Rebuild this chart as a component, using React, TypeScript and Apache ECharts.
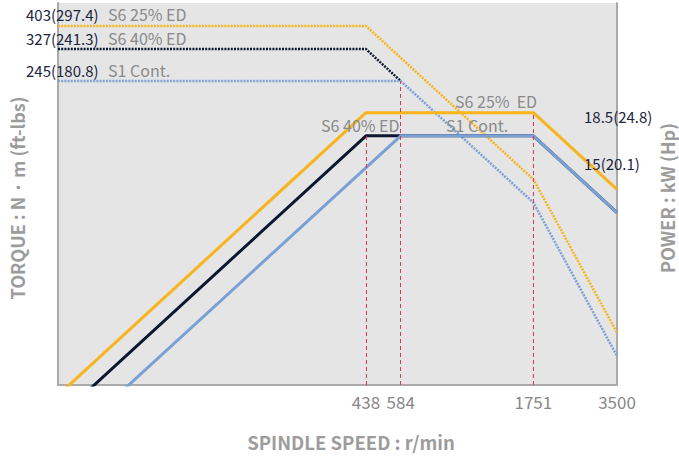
import React, { useEffect, useRef } from "react";
import * as echarts from "echarts";

// Spindle speed ticks (r/min)
const speedTicks = [438, 584, 1751, 3500];

// Torque curves (N·m) : [speed, torque]
const torqueS6_25: number[][] = [[34.2, 403], [438, 403], [1751, 100.8], [3500, 25.2]];
const torqueS6_40: number[][] = [[34.2, 327], [438, 327], [584, 245]];
const torqueS1: number[][] = [[34.2, 245], [584, 245], [1751, 81.7], [3500, 20.4]];

// Power curves (kW) : [speed, power]
const powerS6_25: number[][] = [[34.2, 1.44], [438, 18.5], [1751, 18.5], [3500, 9.25]];
const powerS6_40: number[][] = [[34.2, 1.17], [438, 15], [584, 15], [1751, 15], [3500, 7.5]];
const powerS1: number[][] = [[34.2, 0.88], [584, 15], [1751, 15], [3500, 7.5]];

const torqueLabels = ["403(297.4)", "327(241.3)", "245(180.8)"];
const dutyNames = ["S6 25% ED", "S6 40% ED", "S1 Cont."];
const powerLabels = ["18.5(24.8)", "15(20.1)"];

const X_MIN = 34.2;
const X_MAX = 3500;
const T_MIN = 15.7;
const T_MAX = 496;
const P_MIN = 1.58;
const P_MAX = 49.8;

const ORANGE = "#f7b41c";
const NAVY = "#0c1730";
const BLUE = "#7ba0d6";
const RED = "#e8344a";
const GRAY_TXT = "#8a8a8a";
const TITLE_GRAY = "#9c9c9c";
const NUM_TXT = "#1b2440";
const FONT = "'Noto Sans CJK KR', 'Noto Sans', sans-serif";

export default function App() {
  const ref = useRef<HTMLDivElement>(null);
  useEffect(() => {
    if (!ref.current) return;
    const chart = echarts.init(ref.current, undefined, { renderer: "svg" });
    const refLine = (x: number, yLow: number, yHigh: number) => [
      { coord: [x, yLow] },
      { coord: [x, yHigh] },
    ];
    const markLineStyle = {
      symbol: "none",
      silent: true,
      label: { show: false },
      lineStyle: { color: RED, type: [4, 3], width: 1 },
    };
    const axisLineStyle = { show: true, lineStyle: { color: "#aaaaaa", width: 2 } };
    const numStyle = { fill: NUM_TXT, font: `15px ${FONT}` };
    const grayStyle = { fill: GRAY_TXT, font: `16px ${FONT}` };
    chart.setOption({
      animation: false,
      textStyle: { fontFamily: FONT },
      grid: {
        left: 58,
        right: 62,
        top: 3,
        bottom: 76,
        show: true,
        backgroundColor: "#e5e5e5",
        borderWidth: 0,
      },
      xAxis: {
        type: "log",
        logBase: 10,
        min: X_MIN,
        max: X_MAX,
        axisLine: axisLineStyle,
        axisTick: { show: false },
        splitLine: { show: false },
        axisLabel: {
          customValues: speedTicks,
          color: "#888888",
          fontSize: 17,
          fontFamily: FONT,
          margin: 8,
          formatter: (v: number) => String(Math.round(v)),
        },
      },
      yAxis: [
        {
          type: "log",
          logBase: 10,
          min: T_MIN,
          max: T_MAX,
          position: "left",
          axisLine: axisLineStyle,
          axisTick: { show: false },
          axisLabel: { show: false },
          splitLine: { show: false },
        },
        {
          type: "log",
          logBase: 10,
          min: P_MIN,
          max: P_MAX,
          position: "right",
          axisLine: axisLineStyle,
          axisTick: { show: false },
          axisLabel: { show: false },
          splitLine: { show: false },
        },
      ],
      series: [
        {
          type: "line",
          yAxisIndex: 0,
          data: torqueS6_25,
          symbol: "none",
          lineStyle: { color: ORANGE, width: 2.5, type: [2, 1.2] },
          z: 2,
        },
        {
          type: "line",
          yAxisIndex: 0,
          data: torqueS6_40,
          symbol: "none",
          lineStyle: { color: NAVY, width: 2.5, type: [2, 1.2] },
          z: 2,
        },
        {
          type: "line",
          yAxisIndex: 0,
          data: torqueS1,
          symbol: "none",
          lineStyle: { color: BLUE, width: 2.5, type: [2, 1.2] },
          z: 2,
          markLine: { ...markLineStyle, data: [refLine(584, T_MIN, 245)] },
        },
        {
          type: "line",
          yAxisIndex: 1,
          data: powerS6_25,
          symbol: "none",
          lineStyle: { color: ORANGE, width: 3 },
          z: 3,
          markLine: { ...markLineStyle, data: [refLine(1751, P_MIN, 18.5)] },
        },
        {
          type: "line",
          yAxisIndex: 1,
          data: powerS6_40,
          symbol: "none",
          lineStyle: { color: NAVY, width: 3 },
          z: 3,
          markLine: { ...markLineStyle, data: [refLine(438, P_MIN, 15)] },
        },
        {
          type: "line",
          yAxisIndex: 1,
          data: powerS1,
          symbol: "none",
          lineStyle: { color: BLUE, width: 3 },
          z: 4,
        },
      ],
      graphic: [
        { type: "text", left: 26, top: 7, z: 10, style: { ...numStyle, text: torqueLabels[0] } },
        { type: "text", left: 108, top: 6, z: 10, style: { ...grayStyle, text: dutyNames[0] } },
        { type: "text", left: 26, top: 31, z: 10, style: { ...numStyle, text: torqueLabels[1] } },
        { type: "text", left: 108, top: 30, z: 10, style: { ...grayStyle, text: dutyNames[1] } },
        { type: "text", left: 26, top: 63, z: 10, style: { ...numStyle, text: torqueLabels[2] } },
        { type: "text", left: 108, top: 62, z: 10, style: { ...grayStyle, text: dutyNames[2] } },
        { type: "text", left: 455, top: 93, z: 10, style: { ...grayStyle, text: "S6 25%  ED" } },
        { type: "text", left: 321, top: 117, z: 10, style: { ...grayStyle, text: dutyNames[1] } },
        { type: "text", left: 446, top: 117, z: 10, style: { ...grayStyle, text: dutyNames[2] } },
        { type: "text", left: 584, top: 109, z: 10, style: { ...numStyle, text: powerLabels[0] } },
        { type: "text", left: 584, top: 156, z: 10, style: { ...numStyle, text: powerLabels[1] } },
        {
          type: "text",
          x: 17,
          y: 198,
          rotation: Math.PI / 2,
          z: 10,
          style: {
            text: "TORQUE : N · m (ft-lbs)",
            fill: TITLE_GRAY,
            font: `bold 18px ${FONT}`,
            align: "center",
            verticalAlign: "middle",
          },
        },
        {
          type: "text",
          x: 667,
          y: 198,
          rotation: Math.PI / 2,
          z: 10,
          style: {
            text: "POWER : kW (Hp)",
            fill: TITLE_GRAY,
            font: `bold 18px ${FONT}`,
            align: "center",
            verticalAlign: "middle",
          },
        },
        {
          type: "text",
          x: 351,
          y: 442,
          z: 10,
          style: {
            text: "SPINDLE SPEED : r/min",
            fill: TITLE_GRAY,
            font: `bold 18.5px ${FONT}`,
            align: "center",
            verticalAlign: "middle",
          },
        },
      ],
    });
    return () => chart.dispose();
  }, []);
  return <div ref={ref} style={{ width: 679, height: 461, position: "absolute", left: 0, top: 0 }} />;
}
